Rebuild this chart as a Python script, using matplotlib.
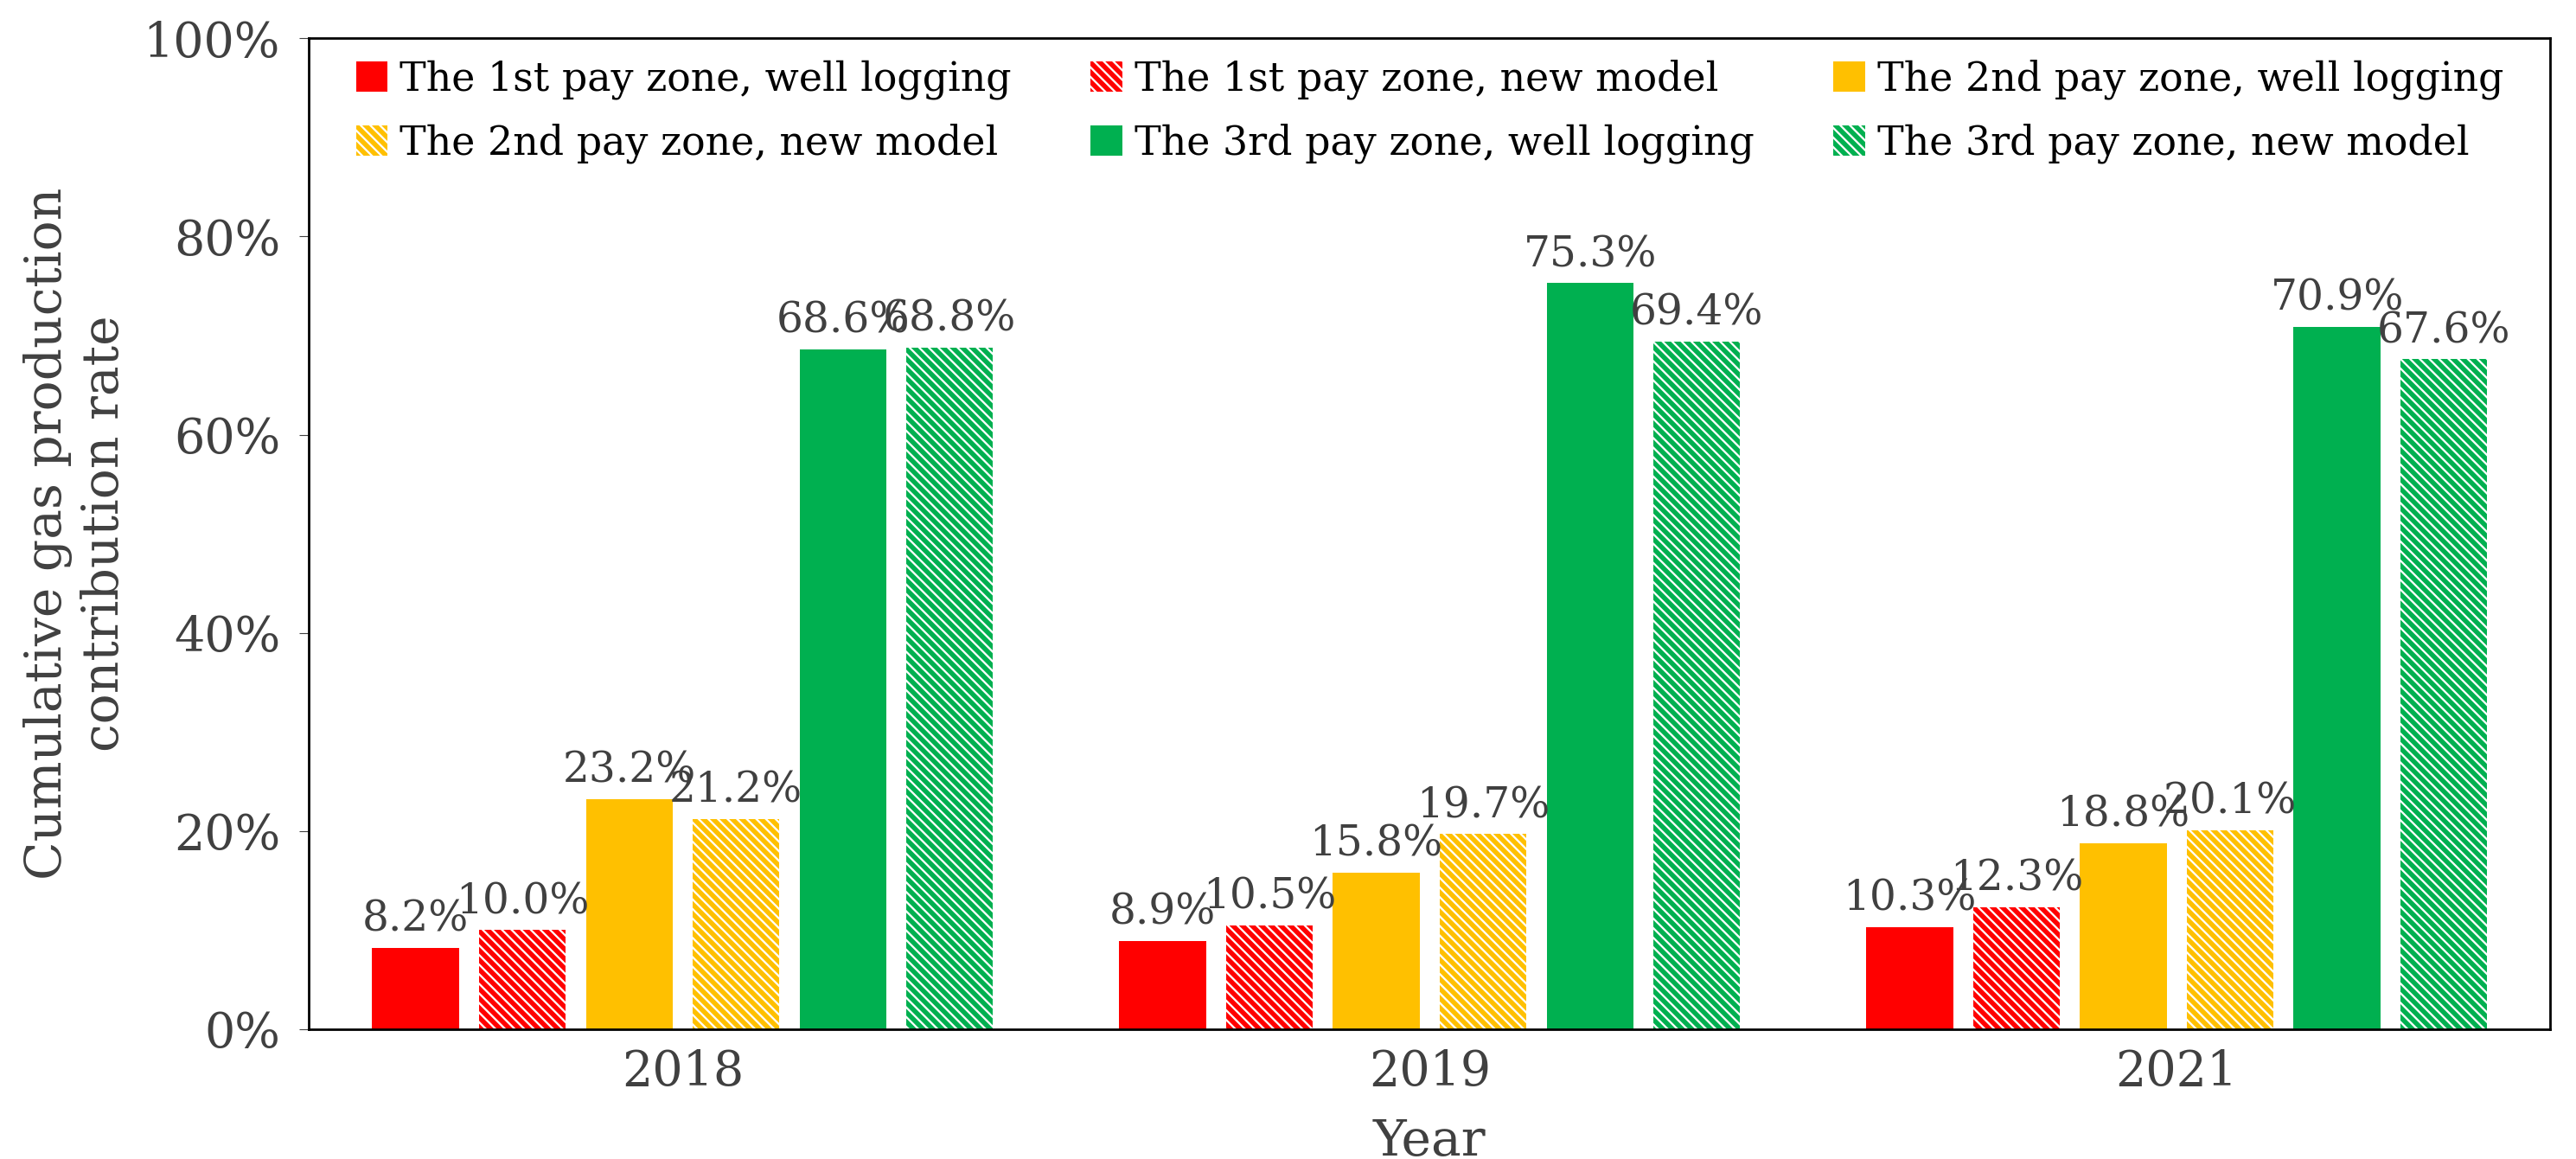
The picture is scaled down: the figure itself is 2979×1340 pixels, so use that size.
import matplotlib.pyplot as plt
import numpy as np

years = ["2018", "2019", "2021"]
series = [
    "The 1st pay zone, well logging",
    "The 1st pay zone, new model",
    "The 2nd pay zone, well logging",
    "The 2nd pay zone, new model",
    "The 3rd pay zone, well logging",
    "The 3rd pay zone, new model",
]
values = [
    [8.2, 8.9, 10.3],
    [10.0, 10.5, 12.3],
    [23.2, 15.8, 18.8],
    [21.2, 19.7, 20.1],
    [68.6, 75.3, 70.9],
    [68.8, 69.4, 67.6],
]
colors = ["#FF0000", "#FF0000", "#FFC000", "#FFC000", "#00B050", "#00B050"]
hatched = [False, True, False, True, False, True]

plt.rcParams["font.family"] = "DejaVu Serif"
plt.rcParams["hatch.linewidth"] = 4

fig = plt.figure(figsize=(29.79, 13.40), dpi=100)
ax = fig.add_axes([0.12, 0.112, 0.87, 0.855])

x = np.arange(len(years))
w = 0.116
pitch = 0.143
handles = []
for i, (name, vals) in enumerate(zip(series, values)):
    pos = x + (i - 2.5) * pitch
    if hatched[i]:
        bars = ax.bar(pos, vals, w, color="white", edgecolor=colors[i],
                      hatch="\\\\\\", linewidth=0, label=name)
    else:
        bars = ax.bar(pos, vals, w, color=colors[i], label=name)
    handles.append(bars)
    for p, v in zip(pos, vals):
        ax.text(p, v + 0.8, f"{v:.1f}%", ha="center", va="bottom",
                fontsize=35, color="#404040")

ax.set_xlim(-0.5, 2.5)
ax.set_ylim(0, 100)
ax.set_xticks(x)
ax.set_xticklabels(years)
ax.set_yticks(range(0, 101, 20))
ax.set_yticklabels([f"{t}%" for t in range(0, 101, 20)])
ax.tick_params(axis="both", labelsize=40, colors="#404040", length=0, pad=16)
ax.tick_params(axis="y", length=8, colors="#404040")
for s in ax.spines.values():
    s.set_linewidth(2)
ax.set_xlabel("Year", fontsize=42, color="#404040", labelpad=18)
ax.set_ylabel("Cumulative gas production\ncontribution rate", fontsize=42,
              color="#404040", labelpad=12)

order = [0, 3, 1, 4, 2, 5]
ax.legend([handles[k] for k in order], [series[k] for k in order],
          loc="upper center", ncol=3, frameon=False, fontsize=33,
          bbox_to_anchor=(0.5, 1.015), handlelength=0.8, handleheight=0.8,
          handletextpad=0.3, columnspacing=2.0, labelspacing=0.6)

fig.savefig("out.png")
